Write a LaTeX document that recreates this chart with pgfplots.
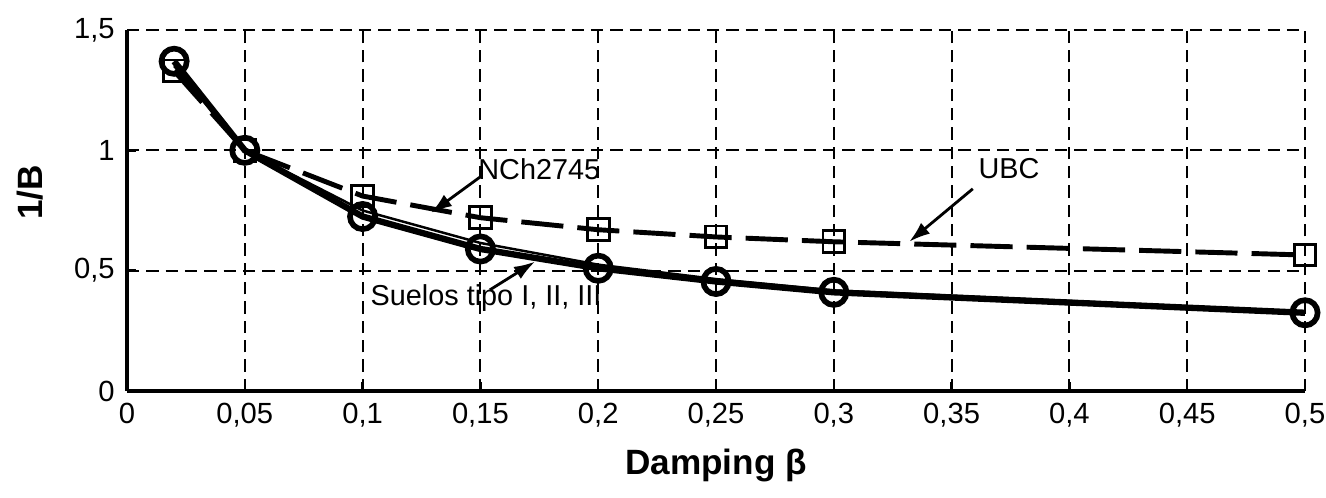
\documentclass[border=0pt]{standalone}
\usepackage{fontspec}
\setmainfont{Liberation Sans}
\usepackage{pgfplots}
\pgfplotsset{compat=1.18}
\usetikzlibrary{arrows.meta}

% 1/B against damping
\pgfplotstableread{
beta  suelos  nch    ubc
0.02  1.37    1.35   1.33
0.05  1.00    1.00   1.00
0.10  0.725   0.75   0.81
0.15  0.59    0.615  0.72
0.20  0.51    0.525  0.67
0.25  0.455   0.465  0.64
0.30  0.41    0.418  0.62
0.50  0.325   0.33   0.565
}\dampdata

\begin{document}
\begin{tikzpicture}
\begin{axis}[
    scale only axis,
    width=11.78cm, height=3.61cm,
    xmin=0, xmax=0.5, ymin=0, ymax=1.5,
    xtick={0,0.05,0.1,0.15,0.2,0.25,0.3,0.35,0.4,0.45,0.5},
    xticklabels={0,{0,05},{0,1},{0,15},{0,2},{0,25},{0,3},{0,35},{0,4},{0,45},{0,5}},
    ytick={0,0.5,1,1.5},
    yticklabels={0,{0,5},1,{1,5}},
    axis x line*=bottom, axis y line*=left,
    axis line style={black, line width=0.9pt},
    tick align=inside,
    major tick length=2.5pt,
    tick style={black, line width=0.7pt},
    grid=major,
    major grid style={black, line width=0.6pt, dash pattern=on 3.5pt off 2pt},
    ticklabel style={font=\fontsize{8.3}{9}\selectfont},
    xlabel={\textbf{Damping β}},
    ylabel={\textbf{1/B}},
    label style={font=\fontsize{10}{12}\selectfont},
    xlabel style={at={(axis description cs:0.5,-0.205)}, anchor=center},
    ylabel style={at={(axis description cs:-0.0823,0.55)}, anchor=center},
]
\addplot[black, line width=1.4pt, dash pattern=on 12pt off 4pt,
    mark=square, mark size=3.1pt, mark options={solid, line width=0.8pt}]
    table[x=beta, y=ubc] {\dampdata};
\addplot[black, line width=1.8pt,
    mark=o, mark size=3.6pt, mark options={solid, line width=1.6pt}]
    table[x=beta, y=suelos] {\dampdata};
\addplot[black, line width=0.7pt] table[x=beta, y=nch] {\dampdata};

\node[font=\fontsize{8.2}{9}\selectfont] at (axis cs:0.175,0.92) {NCh2745};
\node[font=\fontsize{8.2}{9}\selectfont] at (axis cs:0.3744,0.925) {UBC};
\node[font=\fontsize{8.2}{9}\selectfont] at (axis cs:0.1524,0.3875) {Suelos tipo I, II, III};
\draw[line width=0.8pt, -{Latex[length=6pt,width=4pt]}] (axis cs:0.150,0.89) -- (axis cs:0.129,0.74);
\draw[line width=0.8pt, -{Latex[length=6pt,width=4pt]}] (axis cs:0.359,0.84) -- (axis cs:0.332,0.62);
\draw[line width=0.8pt, -{Latex[length=6pt,width=4pt]}] (axis cs:0.154,0.42) -- (axis cs:0.1732,0.5375);
\end{axis}
\pgfresetboundingbox
\path[use as bounding box] ([shift={(-1.27cm,-1.07cm)}]current axis.south west)
    rectangle ([shift={(0.21cm,0.30cm)}]current axis.north east);
\end{tikzpicture}
\end{document}
